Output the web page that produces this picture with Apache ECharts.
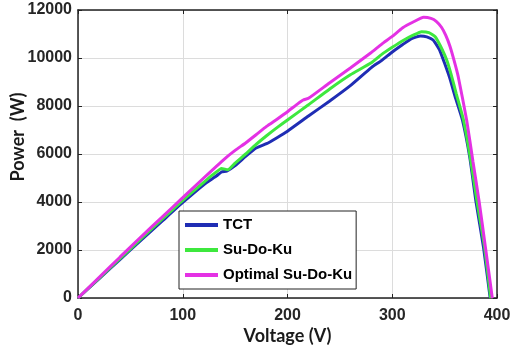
<!DOCTYPE html>
<html>
<head>
<meta charset="utf-8">
<script src="https://cdn.jsdelivr.net/npm/echarts@6/dist/echarts.min.js"></script>
<style>
  html, body { margin: 0; padding: 0; background: #fff; }
  #chart { width: 511px; height: 353px; }
</style>
</head>
<body>
<div id="chart"></div>
<script>
// P-V curves (voltage in V, power in W)
const tctV = [0, 20, 40, 60, 80, 100, 120, 132, 137, 142, 150, 160, 170, 180, 190, 200, 220, 240, 260, 280, 290, 300, 310, 318, 327, 333, 339, 345, 350, 355, 360, 367, 374, 380, 387, 393.5];
const tctP = [0, 800, 1600, 2400, 3190, 3980, 4720, 5080, 5250, 5290, 5520, 5900, 6250, 6430, 6680, 6950, 7580, 8200, 8850, 9600, 9900, 10250, 10560, 10800, 10917, 10880, 10750, 10350, 9778, 9150, 8389, 7417, 5860, 4000, 2150, 0];

const sdkV = [0, 20, 40, 60, 80, 100, 120, 130, 137, 143, 150, 160, 170, 180, 190, 200, 220, 240, 260, 280, 290, 300, 310, 320, 328, 335, 341, 346, 352, 356, 361, 368, 375, 381, 388, 394];
const sdkP = [0, 820, 1640, 2460, 3270, 4070, 4820, 5180, 5400, 5340, 5620, 6000, 6400, 6760, 7100, 7417, 8050, 8700, 9300, 9800, 10150, 10444, 10720, 10950, 11097, 11060, 10889, 10500, 9917, 9350, 8528, 7417, 5720, 4000, 2150, 0];

const optV = [0, 20, 40, 60, 80, 100, 120, 140, 150, 160, 170, 180, 190, 200, 210, 215, 220, 240, 260, 280, 290, 300, 310, 320, 330, 337, 342, 347, 351, 355, 359, 363, 371, 377, 383, 389, 395.5];
const optP = [0, 850, 1700, 2540, 3360, 4180, 5000, 5800, 6150, 6460, 6800, 7150, 7450, 7760, 8100, 8250, 8320, 8960, 9580, 10230, 10580, 10900, 11260, 11500, 11694, 11650, 11530, 11280, 10950, 10500, 9900, 9222, 7417, 5700, 4000, 2100, 0];

const seriesNames = ['TCT', 'Su-Do-Ku', 'Optimal Su-Do-Ku'];
const seriesColors = ['#1f2db4', '#3ee83e', '#e431e4'];
const xTicks = [0, 400, 100];     // min, max, interval
const yTicks = [0, 12000, 2000];

const zip = (xs, ys) => xs.map((x, i) => [x, ys[i]]);
const curves = [zip(tctV, tctP), zip(sdkV, sdkP), zip(optV, optP)];

const tickFont = { color: '#262626', fontSize: 16, fontWeight: 'bold', fontFamily: 'Liberation Sans, Arial' };
const titleFont = { color: '#1a1a1a', fontSize: 18, fontWeight: 'bold', fontFamily: 'Lato, Liberation Sans' };
const boxLine = { show: true, onZero: false, lineStyle: { color: '#222', width: 1.5 } };
const inTick = { show: true, inside: true, length: 4, lineStyle: { color: '#222', width: 1 } };

const option = {
    animation: false,
    backgroundColor: '#fff',
    grid: { left: 78, right: 14, top: 10, bottom: 55, containLabel: false, outerBoundsMode: 'none' },
    legend: {
        data: seriesNames,
        orient: 'vertical',
        left: 179,
        top: 211,
        padding: [6, 4, 6, 6],
        itemGap: 9,
        itemWidth: 33,
        itemHeight: 4,
        icon: 'rect',
        backgroundColor: '#fff',
        borderColor: '#222',
        borderWidth: 1,
        borderRadius: 0,
        textStyle: { color: '#000', fontSize: 15, fontWeight: 'bold', fontFamily: 'Liberation Sans, Arial', lineHeight: 16 }
    },
    xAxis: [
        {
            type: 'value', min: xTicks[0], max: xTicks[1], interval: xTicks[2],
            name: 'Voltage (V)', nameLocation: 'middle', nameGap: 29, nameMoveOverlap: false, nameTextStyle: titleFont,
            axisLine: boxLine, axisTick: inTick,
            axisLabel: Object.assign({ margin: 10 }, tickFont),
            splitLine: { show: true, lineStyle: { color: '#dcdcdc', width: 1 } }
        },
        {
            type: 'value', position: 'top', min: xTicks[0], max: xTicks[1], interval: xTicks[2],
            axisLine: boxLine, axisTick: inTick, axisLabel: { show: false }, splitLine: { show: false }
        }
    ],
    yAxis: [
        {
            type: 'value', min: yTicks[0], max: yTicks[1], interval: yTicks[2],
            name: 'Power  (W)', nameLocation: 'middle', nameGap: 51, nameMoveOverlap: false,
            nameTextStyle: Object.assign({ padding: [0, 0, 0, 34] }, titleFont),
            axisLine: boxLine, axisTick: inTick,
            axisLabel: Object.assign({ margin: 6, formatter: v => String(v) }, tickFont),
            splitLine: { show: true, lineStyle: { color: '#dcdcdc', width: 1 } }
        },
        {
            type: 'value', position: 'right', min: yTicks[0], max: yTicks[1], interval: yTicks[2],
            axisLine: boxLine, axisTick: inTick, axisLabel: { show: false }, splitLine: { show: false }
        }
    ],
    series: curves.map((d, i) => ({
        name: seriesNames[i],
        type: 'line',
        data: d,
        showSymbol: false,
        smooth: 0.15,
        color: seriesColors[i],
        lineStyle: { color: seriesColors[i], width: 3 },
        z: 2 + i
    }))
};

const myChart = echarts.init(document.getElementById('chart'), null, { renderer: 'canvas' });
myChart.setOption(option);
</script>
</body>
</html>
